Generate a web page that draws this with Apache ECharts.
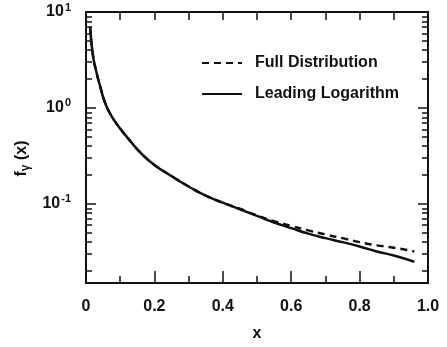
<!DOCTYPE html>
<html>
<head>
<meta charset="utf-8">
<script src="https://cdn.jsdelivr.net/npm/echarts@6/dist/echarts.min.js"></script>
<style>
  html, body { margin: 0; padding: 0; background: #fff; }
  #chart { width: 447px; height: 347px; }
</style>
</head>
<body>
<div id="chart"></div>
<script>
// values
var xs = [0.012, 0.02, 0.03, 0.041, 0.055, 0.07, 0.09, 0.108, 0.13, 0.16, 0.2, 0.25, 0.3,
          0.35, 0.4, 0.45, 0.5, 0.55, 0.6, 0.65, 0.7, 0.75, 0.8, 0.85, 0.9, 0.96];
var leadingLog = [7.0, 3.6, 2.4, 1.7, 1.15, 0.88, 0.68, 0.56, 0.45, 0.34, 0.255, 0.195, 0.152,
                  0.122, 0.103, 0.088, 0.075, 0.064, 0.056, 0.049, 0.044, 0.040, 0.036, 0.032, 0.029, 0.025];
var fullDist = [7.0, 3.6, 2.4, 1.7, 1.15, 0.88, 0.68, 0.56, 0.45, 0.34, 0.255, 0.195, 0.152,
                0.122, 0.103, 0.089, 0.076, 0.066, 0.059, 0.053, 0.048, 0.044, 0.040, 0.037, 0.035, 0.032];
var decadeTicks = [0.1, 1, 10];
var minorTicks = [0.02, 0.03, 0.04, 0.05, 0.06, 0.07, 0.08, 0.09,
                  0.2, 0.3, 0.4, 0.5, 0.6, 0.7, 0.8, 0.9,
                  2, 3, 4, 5, 6, 7, 8, 9];

function pairs(ys) {
    return xs.map(function (x, i) { return [x, ys[i]]; });
}

var font = 'Liberation Sans';
var black = '#111';

function yAxis(pos, ticks, len, labels) {
    return {
        type: 'log',
        logBase: 10,
        min: 0.015,
        max: 10,
        position: pos,
        axisLine: { show: true, onZero: false, lineStyle: { color: black, width: 2 } },
        axisTick: { show: true, inside: true, length: len, customValues: ticks,
                    lineStyle: { color: black, width: 1.5 } },
        axisLabel: labels ? {
            show: true,
            customValues: decadeTicks,
            margin: 15,
            formatter: function (v) {
                var e = Math.round(Math.log10(v));
                return '{b|10}{s|' + e + '}';
            },
            rich: {
                b: { fontFamily: font, fontWeight: 'bold', fontSize: 16, color: black },
                s: { fontFamily: font, fontWeight: 'bold', fontSize: 11, color: black,
                     verticalAlign: 'top', padding: [0, 0, 9, 1] }
            }
        } : { show: false },
        splitLine: { show: false },
        name: labels ? '{f|f}{g|γ}{f| (x)}' : '',
        nameLocation: 'middle',
        nameGap: 50,
        nameTextStyle: {
            padding: [0, 22, 0, 0],
            rich: {
                f: { fontFamily: font, fontWeight: 'bold', fontSize: 16, color: black },
                g: { fontFamily: font, fontWeight: 'bold', fontSize: 12, color: black,
                     verticalAlign: 'bottom', padding: [8, 0, 0, 0] }
            }
        }
    };
}

var option = {
    animation: false,
    grid: { left: 86, right: 19, top: 12, bottom: 61 },
    legend: {
        left: 196,
        top: 50,
        orient: 'vertical',
        itemWidth: 40,
        itemHeight: 12,
        itemGap: 15,
        itemStyle: { opacity: 0 },
        textStyle: { fontFamily: font, fontWeight: 'bold', fontSize: 16, color: black, padding: [0, 0, 0, 8] },
        data: ['Full Distribution', 'Leading Logarithm']
    },
    xAxis: [{
        type: 'value',
        min: 0,
        max: 1,
        interval: 0.2,
        position: 'bottom',
        name: 'x',
        nameLocation: 'middle',
        nameGap: 43,
        nameTextStyle: { fontFamily: font, fontWeight: 'bold', fontSize: 16, color: black },
        axisLine: { show: true, onZero: false, lineStyle: { color: black, width: 2 } },
        axisTick: { inside: true, length: 12, lineStyle: { color: black, width: 1.5 } },
        minorTick: { show: true, splitNumber: 2, length: 7, lineStyle: { color: black, width: 1.5 } },
        axisLabel: {
            margin: 16,
            fontFamily: font, fontWeight: 'bold', fontSize: 16, color: black,
            formatter: function (v) { return v === 0 ? '0' : v.toFixed(1); }
        },
        splitLine: { show: false }
    }, {
        type: 'value',
        min: 0,
        max: 1,
        interval: 0.1,
        position: 'top',
        axisLine: { show: true, onZero: false, lineStyle: { color: black, width: 2 } },
        axisTick: { inside: true, length: 8, lineStyle: { color: black, width: 1.5 } },
        axisLabel: { show: false },
        splitLine: { show: false }
    }],
    yAxis: [
        yAxis('left', decadeTicks, 10, true),
        yAxis('left', minorTicks, 6, false),
        yAxis('right', decadeTicks, 10, false),
        yAxis('right', minorTicks, 6, false)
    ],
    series: [{
        name: 'Full Distribution',
        type: 'line',
        smooth: true,
        symbol: 'none',
        data: pairs(fullDist),
        lineStyle: { color: black, width: 2.5, type: [7, 5] },
        itemStyle: { color: black }
    }, {
        name: 'Leading Logarithm',
        type: 'line',
        smooth: true,
        symbol: 'none',
        data: pairs(leadingLog),
        lineStyle: { color: black, width: 2.5 },
        itemStyle: { color: black }
    }]
};

var chart = echarts.init(document.getElementById('chart'));
chart.setOption(option);
</script>
</body>
</html>
